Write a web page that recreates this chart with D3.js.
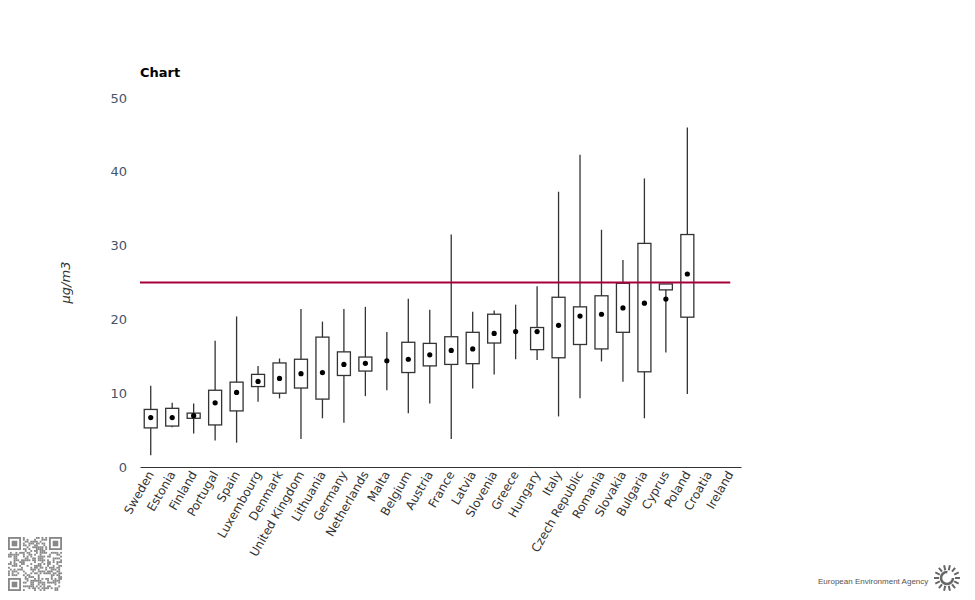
<!DOCTYPE html>
<html>
<head>
<meta charset="utf-8">
<script src="https://cdn.jsdelivr.net/npm/d3@7"></script>
<style>
  body { margin: 0; background: #fff; }
  svg { font-family: "DejaVu Sans", Verdana, sans-serif; }
</style>
</head>
<body>
<div class="vis-boxplot"></div>
<script>
// countries in the order shown
const countries = ["Sweden", "Estonia", "Finland", "Portugal", "Spain", "Luxembourg", "Denmark",
    "United Kingdom", "Lithuania", "Germany", "Netherlands", "Malta", "Belgium", "Austria", "France",
    "Latvia", "Slovenia", "Greece", "Hungary", "Italy", "Czech Republic", "Romania", "Slovakia",
    "Bulgaria", "Cyprus", "Poland", "Croatia", "Ireland"];

// statistics per country (µg/m3), null = not shown
const minVals = [1.6, 5.4, 4.55, 3.6, 3.3, 8.85, 9.3, 3.8, 6.6, 6.0, 9.6, 10.4, 7.3, 8.6, 3.8,
    10.65, 12.55, 14.6, 14.5, 6.85, 9.3, 14.3, 11.55, 6.6, 15.5, 9.9, null, null];
const q1Vals = [5.3, 5.55, 6.6, 5.7, 7.6, 10.9, 10.0, 10.7, 9.2, 12.4, 13.0, null, 12.8, 13.7, 13.9,
    14.0, 16.8, null, 15.9, 14.8, 16.6, 16.0, 18.25, 12.9, 24.0, 20.3, null, null];
const medianVals = [6.7, 6.7, 6.95, 8.7, 10.1, 11.6, 12.0, 12.65, 12.8, 13.9, 14.05, 14.4, 14.6, 15.2, 15.8,
    16.0, 18.1, 18.35, 18.35, 19.2, 20.45, 20.7, 21.55, 22.2, 22.75, 26.15, null, null];
const q3Vals = [7.8, 7.95, 7.3, 10.4, 11.5, 12.55, 14.1, 14.6, 17.6, 15.6, 14.9, null, 16.9, 16.75, 17.65,
    18.25, 20.7, null, 18.9, 23.0, 21.7, 23.2, 24.9, 30.3, 24.8, 31.5, null, null];
const maxVals = [11.0, 8.7, 8.6, 17.1, 20.4, 13.7, 14.7, 21.4, 19.7, 21.4, 21.7, 18.3, 22.8, 21.3, 31.5,
    21.05, 21.2, 22.0, 24.5, 37.3, 42.3, 32.15, 28.05, 39.1, 24.8, 46.0, null, null];

const yTicks = [0, 10, 20, 30, 40, 50];
const limitValue = 25;

const data = countries.map((c, i) => ({
    country: c, min: minVals[i], q1: q1Vals[i], median: medianVals[i], q3: q3Vals[i], max: maxVals[i]
}));

const W = 975, H = 600;
const margin = { top: 98, right: 234, bottom: 133, left: 140 };
const width = W - margin.left - margin.right;
const height = H - margin.top - margin.bottom;

const svg = d3.select(".vis-boxplot").append("svg")
    .attr("width", W).attr("height", H);

const g = svg.append("g")
    .attr("transform", "translate(" + margin.left + "," + margin.top + ")");

const x = d3.scaleBand().domain(countries).range([0, width]).padding(0);
const y = d3.scaleLinear().domain([0, 50]).range([height, 0]);
const boxW = 13;

// title
svg.append("text")
    .attr("x", 140).attr("y", 77)
    .attr("font-size", 13).attr("font-weight", "bold").attr("fill", "#000")
    .text("Chart");

// y axis labels (no line)
const yAxis = g.append("g")
    .call(d3.axisLeft(y).tickValues(yTicks).tickSize(0).tickPadding(13));
yAxis.select(".domain").remove();
yAxis.selectAll("text").attr("font-size", 13).attr("fill", "#44546a")
    .attr("font-family", "DejaVu Sans, Verdana, sans-serif");

// y title
svg.append("text")
    .attr("transform", "translate(70," + (margin.top + y(25)) + ") rotate(-90)")
    .attr("text-anchor", "middle")
    .attr("font-size", 13).attr("font-style", "italic").attr("fill", "#333")
    .text("µg/m3");

// x axis
const xAxis = g.append("g")
    .attr("transform", "translate(0," + height + ")")
    .call(d3.axisBottom(x).tickSize(0).tickPadding(0));
xAxis.select(".domain").attr("stroke", "#333").attr("stroke-width", 1.2);
xAxis.selectAll("text")
    .attr("font-size", 12).attr("fill", "#333")
    .attr("font-family", "DejaVu Sans, Verdana, sans-serif")
    .attr("text-anchor", "end")
    .attr("dy", "0.35em")
    .attr("transform", "translate(0,5) rotate(-60)");

const cx = d => x(d.country) + x.bandwidth() / 2;
const shown = data.filter(d => d.max != null);

// whiskers
g.append("g").selectAll("line")
    .data(shown)
    .enter().append("line")
    .attr("x1", cx).attr("x2", cx)
    .attr("y1", d => y(d.max)).attr("y2", d => y(d.min))
    .attr("stroke", "#333").attr("stroke-width", 1.3);

// boxes
g.append("g").selectAll("rect")
    .data(shown.filter(d => d.q1 != null))
    .enter().append("rect")
    .attr("x", d => cx(d) - boxW / 2)
    .attr("width", boxW)
    .attr("y", d => y(d.q3))
    .attr("height", d => y(d.q1) - y(d.q3))
    .attr("fill", "#fff")
    .attr("stroke", "#333").attr("stroke-width", 1.3);

// limit line
g.append("line")
    .attr("x1", 0).attr("x2", x("Ireland") + x.bandwidth() / 2)
    .attr("y1", y(limitValue)).attr("y2", y(limitValue))
    .attr("stroke", "#a3003a").attr("stroke-width", 2);

// medians
g.append("g").selectAll("circle")
    .data(shown)
    .enter().append("circle")
    .attr("cx", cx)
    .attr("cy", d => y(d.median))
    .attr("r", 2.6)
    .attr("fill", "#000");

// QR-like badge bottom left
const qr = svg.append("g").attr("transform", "translate(8,537)");
const cells = 29, cs = 54 / cells;
qr.append("rect").attr("width", 54).attr("height", 54).attr("fill", "#fff");
for (let r = 0; r < cells; r++) {
    for (let c = 0; c < cells; c++) {
        const inFinder = (r < 8 && c < 8) || (r < 8 && c > cells - 9) || (r > cells - 9 && c < 8);
        if (inFinder) continue;
        let h = (r * 374761393 + c * 668265263) >>> 0;
        h = Math.imul(h ^ (h >>> 13), 1274126177) >>> 0;
        if ((h >>> 16) % 2 === 0) {
            qr.append("rect").attr("x", c * cs).attr("y", r * cs)
                .attr("width", cs).attr("height", cs).attr("fill", "#888");
        }
    }
}
[[0, 0], [0, cells - 7], [cells - 7, 0]].forEach(([r, c]) => {
    qr.append("rect").attr("x", c * cs + cs / 2).attr("y", r * cs + cs / 2)
        .attr("width", 6 * cs).attr("height", 6 * cs)
        .attr("fill", "none").attr("stroke", "#888").attr("stroke-width", cs);
    qr.append("rect").attr("x", (c + 2) * cs).attr("y", (r + 2) * cs)
        .attr("width", 3 * cs).attr("height", 3 * cs).attr("fill", "#888");
});

// EEA logo bottom right
svg.append("text")
    .attr("x", 818).attr("y", 584)
    .attr("font-family", "Arial, Liberation Sans, sans-serif")
    .attr("font-size", 8).attr("fill", "#555")
    .text("European Environment Agency");
const sun = svg.append("g").attr("transform", "translate(947,578)");
sun.append("circle").attr("r", 6).attr("fill", "none").attr("stroke", "#666").attr("stroke-width", 2.5)
    .attr("stroke-dasharray", "28 10");
d3.range(14).forEach(i => {
    const a = i / 14 * 2 * Math.PI;
    sun.append("line")
        .attr("x1", Math.cos(a) * 8).attr("y1", Math.sin(a) * 8)
        .attr("x2", Math.cos(a) * 13).attr("y2", Math.sin(a) * 13)
        .attr("stroke", "#666").attr("stroke-width", 2);
});
</script>
</body>
</html>
